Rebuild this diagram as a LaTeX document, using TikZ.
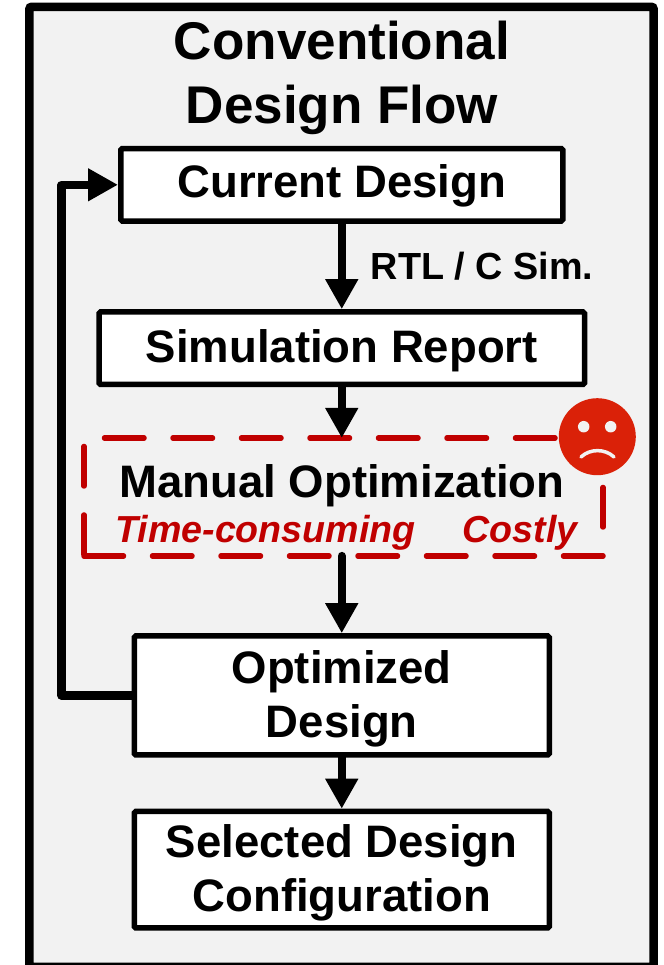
\documentclass[tikz,border=0pt]{standalone}
\usepackage{fontspec}
\setmainfont{Liberation Sans}
\usetikzlibrary{arrows.meta}
\definecolor{panelgray}{HTML}{F2F2F2}
\definecolor{costred}{HTML}{C00000}
\definecolor{frownred}{HTML}{DA2108}
\tikzset{
  flowbox/.style={draw=black,fill=white,line width=1.1mm,rounded corners=0.3mm,align=center,inner sep=0pt,font=\fontsize{25.9}{30.7}\selectfont\bfseries},
  flowarrow/.style={draw=black,line width=1.65mm,line cap=round,line join=round,-{Triangle[length=6mm,width=6.2mm]}},
  costnote/.style={text=costred,anchor=base,inner sep=0pt,font=\fontsize{21.4}{25}\selectfont\bfseries\itshape}
}
\begin{document}
\begin{tikzpicture}
\useasboundingbox (0,0) rectangle (13.28,19.3);
\clip (0,0) rectangle (13.28,19.3);
\draw[line width=1.7mm,fill=panelgray,rounded corners=0.4mm] (0.59,-0.04) rectangle (13.07,19.163);
\draw (6.84,17.74) node[align=center,inner sep=0pt,font=\fontsize{30.2}{36}\selectfont\bfseries](title) {Conventional\\Design Flow};
\draw (6.835,15.604) node[flowbox,minimum width=8.84cm,minimum height=1.45cm](current) {\rule{0pt}{20pt}Current Design};
\draw (6.835,12.336) node[flowbox,minimum width=9.71cm,minimum height=1.45cm](report) {\rule{0pt}{22pt}Simulation Report};
\draw (6.835,5.39) node[flowbox,minimum width=8.3cm,minimum height=2.38cm](optimized) {\rule{0pt}{23pt}Optimized\\Design};
\draw (6.835,1.905) node[flowbox,minimum width=8.3cm,minimum height=2.33cm](selected) {\rule{0pt}{22pt}Selected Design\\Configuration};
\draw (6.87,9.36) node[inner sep=0pt,outer sep=0pt,minimum width=10.38cm,minimum height=2.36cm](manual) {};
\draw[costred,line width=1.1mm,dash pattern=on 7.9mm off 5.8mm,line cap=round,line join=round] (manual.south west) -- (manual.south east) -- (manual.north east) -- (manual.north west) -- cycle;
\draw (6.84,9.34) node[anchor=base,inner sep=0pt,font=\fontsize{25.9}{30}\selectfont\bfseries](manualtext) {Manual Optimization};
\draw (5.31,8.44) node[costnote](slow) {Time-consuming};
\draw (10.4,8.44) node[costnote](costly) {Costly};
\draw (9.64,13.7) node[anchor=base,inner sep=0pt,font=\fontsize{21.5}{25}\selectfont\bfseries](sim) {RTL / C Sim.};
\draw (11.946,10.566) node[circle,fill=frownred,minimum size=1.54cm,inner sep=0pt](frown) {};
\fill[panelgray] (11.674,10.766) circle (0.115);
\fill[panelgray] (12.214,10.766) circle (0.115);
\draw[panelgray,line width=0.7mm,line cap=round] (11.62,10.16) .. controls (11.8,10.33) and (12.1,10.33) .. (12.28,10.16);
\coordinate (loop) at (1.23,5.39);
\draw[flowarrow] (current) -- (report);
\draw[flowarrow] (report) -- (report |- manual.north);
\draw[flowarrow] (manual.south -| optimized) -- (optimized);
\draw[flowarrow] (optimized) -- (selected);
\draw[flowarrow] (optimized.west) -- (loop) |- (current.west);
\end{tikzpicture}
\end{document}
